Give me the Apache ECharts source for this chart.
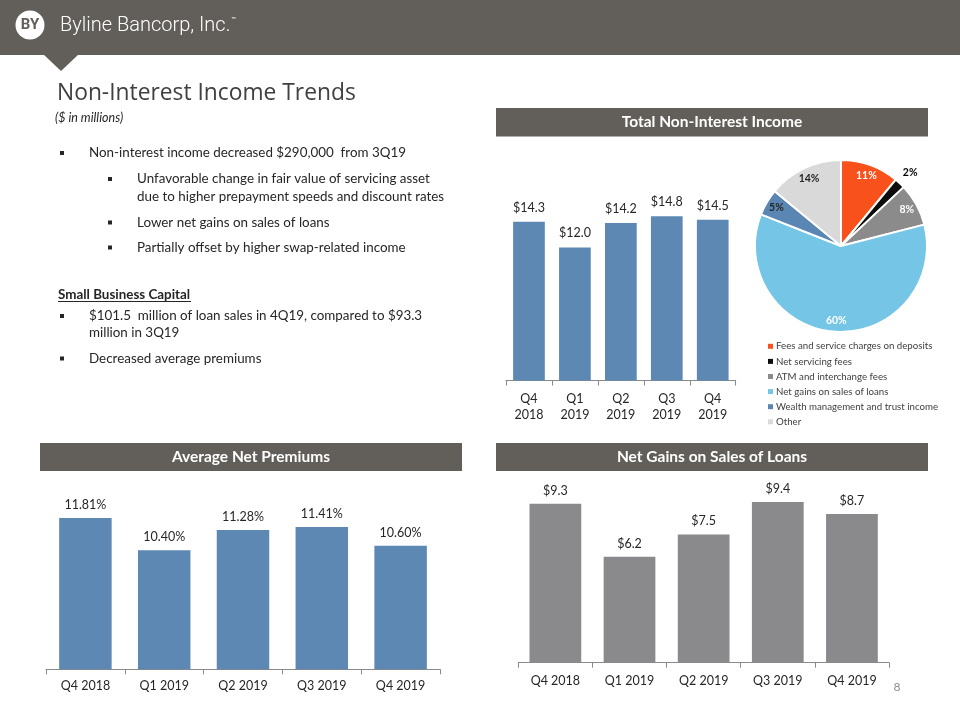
<!DOCTYPE html>
<html><head><meta charset="utf-8">
<script src="https://cdn.jsdelivr.net/npm/echarts@6/dist/echarts.min.js"></script>
<style>html,body{margin:0;padding:0;background:#fff}#c{width:960px;height:720px}</style>
</head><body><div id="c"></div>
<script>
// ---- data ----
const totalCats = ['Q4\n2018', 'Q1\n2019', 'Q2\n2019', 'Q3\n2019', 'Q4\n2019'];
const totalValues = [14.3, 12.0, 14.2, 14.8, 14.5];
const quarterCats = ['Q4 2018', 'Q1 2019', 'Q2 2019', 'Q3 2019', 'Q4 2019'];
const premiumValues = [11.81, 10.40, 11.28, 11.41, 10.60];
const gainValues = [9.3, 6.2, 7.5, 9.4, 8.7];
const mixNames = ['Fees and service charges on deposits', 'Net servicing fees', 'ATM and interchange fees', 'Net gains on sales of loans', 'Wealth management and trust income', 'Other'];
const mixValues = [11, 2, 8, 60, 5, 14];

// ---- styles ----
const mixColors = ['#f9511b', '#0d0d0d', '#8b8b8b', '#74c5e6', '#5a86b3', '#d9d9d9'];
const mixLabelColors = ['#ffffff', '#000000', '#ffffff', '#ffffff', '#262626', '#262626'];
const FONT = 'Lato, "Open Sans", sans-serif';
const HDR = '#625f5a';
const TXT = '#262626';
const BODY = 13.4;

const chart = echarts.init(document.getElementById('c'), null, { renderer: 'canvas', width: 960, height: 720 });

function txt(x, y, s, size, extra) {
  return { type: 'text', x: x, y: y, style: Object.assign({ text: s, fill: TXT, fontSize: size, fontFamily: FONT, align: 'left', verticalAlign: 'middle' }, extra || {}) };
}
function bullet(x, y) {
  return { type: 'rect', shape: { x: x - 2, y: y - 2, width: 4, height: 4 }, style: { fill: TXT } };
}
function panel(x, y, w, h, label) {
  return [
    { type: 'rect', shape: { x: x, y: y, width: w, height: h }, style: { fill: HDR } },
    txt(x + w / 2, y + h / 2, label, 15.5, { fill: '#ffffff', fontWeight: 'bold', align: 'center' })
  ];
}

const graphics = [
  { type: 'rect', shape: { x: 0, y: 0, width: 960, height: 55 }, style: { fill: HDR } },
  { type: 'polygon', shape: { points: [[43, 54], [79, 54], [61, 71]] }, style: { fill: HDR } },
  { type: 'circle', shape: { cx: 30, cy: 25, r: 14.5 }, style: { fill: '#ffffff' } },
  txt(30, 25.5, 'BY', 15, { fill: HDR, fontWeight: 'bold', align: 'center', fontFamily: 'Roboto, sans-serif' }),
  txt(60, 25.5, 'Byline Bancorp, Inc.', 20, { fill: '#ffffff', fontFamily: 'Roboto, sans-serif', fontWeight: 300 }),
  txt(231, 19, '™', 6, { fill: '#ffffff' }),
  txt(57, 93.5, 'Non-Interest Income Trends', 22.8, { fill: '#404040', fontFamily: '"Open Sans", sans-serif' }),
  txt(55, 117.5, '($ in millions)', 12.5, { fontStyle: 'italic' }),
  bullet(62, 153), txt(89, 153, 'Non-interest income decreased $290,000  from 3Q19', BODY),
  bullet(110, 179), txt(137, 179, 'Unfavorable change in fair value of servicing asset', BODY),
  txt(137, 196.5, 'due to higher prepayment speeds and discount rates', BODY),
  bullet(110, 222.5), txt(137, 222.5, 'Lower net gains on sales of loans', BODY),
  bullet(110, 247.5), txt(137, 247.5, 'Partially offset by higher swap-related income', BODY),
  txt(58, 295, 'Small Business Capital', BODY, { fontWeight: 'bold' }),
  { type: 'line', shape: { x1: 58, y1: 301.5, x2: 191, y2: 301.5 }, style: { stroke: TXT, lineWidth: 1 } },
  bullet(62, 316), txt(89, 316, '$101.5  million of loan sales in 4Q19, compared to $93.3', BODY),
  txt(89, 333, 'million in 3Q19', BODY),
  bullet(62, 358.5), txt(89, 358.5, 'Decreased average premiums', BODY),
  ...panel(496, 108, 432, 28.5, 'Total Non-Interest Income'),
  ...panel(40, 443, 422, 28, 'Average Net Premiums'),
  ...panel(496, 443, 432, 28, 'Net Gains on Sales of Loans'),
  txt(897, 687, '8', 12, { fill: '#8c8c8c', align: 'center' })
];

function xAx(gi, cats, margin, lh) {
  return {
    type: 'category', gridIndex: gi, data: cats,
    axisLine: { lineStyle: { color: '#8a8a8a', width: 1 } },
    axisTick: { show: true, length: 5, lineStyle: { color: '#8a8a8a' } },
    axisLabel: { color: TXT, fontSize: 12.5, fontFamily: FONT, margin: margin, lineHeight: lh, interval: 0 }
  };
}
function yAx(gi, min, max) {
  return { type: 'value', gridIndex: gi, min: min, max: max, show: false, splitLine: { show: false } };
}
function barSeries(i, vals, color, width, fmt, dist) {
  return {
    type: 'bar', xAxisIndex: i, yAxisIndex: i, data: vals, barWidth: width,
    itemStyle: { color: color },
    label: { show: true, position: 'top', distance: dist, color: TXT, fontSize: 12.5, fontFamily: FONT, lineHeight: 16, formatter: fmt },
    silent: true
  };
}

const pieData = mixNames.map((n, i) => ({ name: n, value: mixValues[i], itemStyle: { color: mixColors[i] } }));

const option = {
  animation: false,
  backgroundColor: '#ffffff',
  graphic: { elements: graphics },
  grid: [
    { left: 506, top: 191.9, width: 229.7, height: 188.7 },
    { left: 46, top: 490.7, width: 394, height: 178.6 },
    { left: 518.3, top: 474.6, width: 370.7, height: 188.1 }
  ],
  xAxis: [xAx(0, totalCats, 10, 16), xAx(1, quarterCats, 9, 16), xAx(2, quarterCats, 10, 16)],
  yAxis: [yAx(0, 0, 17), yAx(1, 5.2, 13), yAx(2, 0, 11)],
  legend: {
    orient: 'vertical', left: 763, top: 336, itemWidth: 5, itemHeight: 5, itemGap: 4.5,
    icon: 'rect', selectedMode: false,
    textStyle: { color: '#404040', fontSize: 9.7, fontFamily: FONT, lineHeight: 10.6, padding: [0, 0, 0, -2] },
    data: mixNames.map((n, i) => ({ name: n, itemStyle: { color: mixColors[i], borderWidth: 0 } }))
  },
  series: [
    barSeries(0, totalValues, '#5d88b3', '69%', p => '$' + p.value.toFixed(1), 6),
    barSeries(1, premiumValues, '#5d88b3', '66.6%', p => p.value.toFixed(2) + '%', 5),
    barSeries(2, gainValues, '#8a8a8c', '69.8%', p => '$' + p.value.toFixed(1), 5),
    {
      type: 'pie', center: [841, 246], radius: 86, startAngle: 90, clockwise: true,
      data: pieData, silent: true,
      itemStyle: { borderColor: '#ffffff', borderWidth: 2 },
      label: { show: false }, labelLine: { show: false }
    },
    {
      type: 'pie', center: [841, 246], radius: [58, 86], startAngle: 90, clockwise: true, silent: true,
      data: mixNames.map((n, i) => ({
        name: n, value: mixValues[i],
        label: { show: i !== 1, color: mixLabelColors[i] }
      })),
      itemStyle: { color: 'rgba(0,0,0,0)' },
      label: { position: 'inside', rotate: 0, formatter: p => p.value + '%', fontSize: 10.5, fontWeight: 'bold', fontFamily: FONT },
      labelLine: { show: false }
    },
    {
      type: 'pie', center: [841, 246], radius: [90, 106], startAngle: 90, clockwise: true, silent: true,
      data: mixNames.map((n, i) => ({
        name: n, value: mixValues[i],
        label: { show: i === 1, color: mixLabelColors[i] }
      })),
      itemStyle: { color: 'rgba(0,0,0,0)' },
      label: { position: 'inside', rotate: 0, formatter: p => p.value + '%', fontSize: 10.5, fontWeight: 'bold', fontFamily: FONT },
      labelLine: { show: false }
    }
  ]
};
chart.setOption(option);
</script>
</body></html>
